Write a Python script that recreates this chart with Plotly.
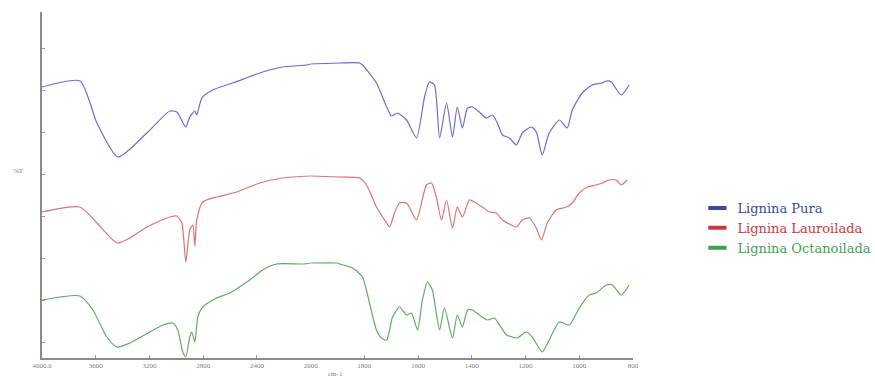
import plotly.graph_objects as go

# FTIR spectra of lignin samples (wavenumber in cm-1, offset %T in arbitrary units)
wn_pura = [4000, 3717, 3591, 3435, 3219, 3048, 2996, 2929, 2900, 2862, 2848, 2810, 2729, 2580,
           2357, 2208, 2030, 2000, 1892, 1818, 1807, 1755, 1717, 1699, 1677, 1643, 1606, 1576,
           1558, 1539, 1520, 1494, 1472, 1454, 1435, 1416, 1398, 1372, 1346, 1323, 1305, 1286,
           1260, 1234, 1212, 1178, 1160, 1138, 1112, 1074, 1045, 1026, 989, 952, 914, 900, 881,
           844, 814]
t_pura = [268, 274, 232, 198, 222, 244, 243, 228, 238, 244, 240, 257, 265, 272,
          283, 288, 290, 291, 292, 292, 290, 272, 248, 239, 242, 235, 217, 258,
          273, 270, 217, 252, 218, 248, 227, 247, 248, 243, 237, 240, 232, 220,
          217, 210, 222, 228, 223, 200, 222, 235, 227, 245, 262, 270, 272, 274, 273,
          260, 270]

wn_laur = [4000, 3717, 3591, 3442, 3346, 3219, 3048, 2996, 2959, 2929, 2900, 2877, 2862, 2848,
           2803, 2699, 2550, 2379, 2208, 2000, 1892, 1818, 1792, 1755, 1717, 1706, 1688, 1669,
           1643, 1606, 1569, 1550, 1532, 1513, 1494, 1472, 1454, 1435, 1409, 1390, 1361, 1335,
           1309, 1286, 1253, 1234, 1212, 1186, 1160, 1141, 1119, 1086, 1048, 1026, 1000, 970,
           937, 914, 889, 863, 844, 822]
t_laur = [143, 148, 132, 112, 117, 128, 138, 139, 132, 93, 125, 130, 109, 135,
          153, 158, 163, 172, 177, 179, 178, 177, 170, 148, 132, 128, 142, 152,
          152, 135, 170, 172, 158, 135, 155, 127, 148, 138, 155, 153, 148, 143,
          142, 135, 130, 128, 135, 137, 127, 115, 132, 145, 148, 152, 162, 168,
          170, 172, 175, 175, 170, 175]

wn_octa = [4000, 3717, 3621, 3517, 3442, 3346, 3197, 3100, 3026, 2989, 2952, 2929, 2900, 2885,
           2862, 2840, 2803, 2699, 2602, 2454, 2357, 2253, 2059, 2000, 1903, 1892, 1844, 1807,
           1781, 1755, 1736, 1717, 1695, 1669, 1643, 1625, 1602, 1584, 1565, 1547, 1520, 1502,
           1472, 1454, 1435, 1416, 1398, 1372, 1342, 1316, 1297, 1271, 1249, 1231, 1197, 1175,
           1138, 1112, 1074, 1037, 1000, 963, 937, 900, 877, 844, 814]
t_octa = [55, 59, 45, 18, 8, 12, 23, 30, 32, 25, 3, -2, 18, 23,
          13, 38, 48, 57, 62, 75, 85, 91, 91, 92, 92, 91, 87, 78,
          52, 25, 17, 15, 38, 48, 40, 42, 25, 55, 73, 65, 25, 47,
          17, 40, 28, 45, 45, 40, 35, 37, 30, 20, 18, 17, 23, 18,
          3, 15, 33, 30, 47, 60, 62, 70, 70, 60, 70]

series = [
    ("Lignina Pura", wn_pura, t_pura, "#6b6bd6", "#3a4aa0"),
    ("Lignina Lauroilada", wn_laur, t_laur, "#e27272", "#c83a3a"),
    ("Lignina Octanoilada", wn_octa, t_octa, "#62ab62", "#3f9f55"),
]

ticks_high = [4000, 3600, 3200, 2800, 2400]
ticks_high_text = ["4000.0", "3600", "3200", "2800", "2400"]
ticks_low = [2000, 1800, 1600, 1400, 1200, 1000, 800]
ticks_low_text = ["2000", "1800", "1600", "1400", "1200", "1000", "800"]

fig = go.Figure()

for name, wn, t, line_col, text_col in series:
    hi = [(w, v) for w, v in zip(wn, t) if w >= 2000]
    lo = [(w, v) for w, v in zip(wn, t) if w <= 2000]
    for part, xa in ((hi, "x"), (lo, "x2")):
        fig.add_trace(go.Scatter(
            x=[p[0] for p in part], y=[p[1] for p in part],
            mode="lines", xaxis=xa, yaxis="y",
            line=dict(color=line_col, width=1.2, shape="spline", smoothing=0.6),
            showlegend=False, hoverinfo="skip",
        ))
    # legend entry with a short thick dash
    fig.add_trace(go.Scatter(
        x=[None], y=[None], mode="markers", xaxis="x2", yaxis="y",
        name=f"<span style='color:{text_col}'>{name}</span>",
        marker=dict(symbol="line-ew-open", size=13, color=text_col,
                    line=dict(color=text_col, width=4)),
    ))

axis_common = dict(
    showline=True, linecolor="#8a8a8a", linewidth=1.5,
    ticks="inside", ticklen=3, tickcolor="#9a9a9a",
    showgrid=False, zeroline=False,
    tickfont=dict(family="Liberation Serif", size=7, color="#808080"),
)

fig.update_layout(
    width=875, height=381,
    margin=dict(l=42, r=242, t=12, b=23, autoexpand=False),
    paper_bgcolor="white", plot_bgcolor="white",
    xaxis=dict(domain=[0, 5 / 11], range=[4000, 2000], anchor="y",
               tickvals=ticks_high, ticktext=ticks_high_text, **axis_common),
    xaxis2=dict(domain=[5 / 11, 1], range=[2000, 800], anchor="y",
                tickvals=ticks_low, ticktext=ticks_low_text, **axis_common),
    yaxis=dict(range=[-3, 343], tickvals=[13, 55, 97, 139, 181, 223, 265, 307],
               showticklabels=False, **axis_common),
    legend=dict(x=1.109, y=0.477, xanchor="left", yanchor="top",
                font=dict(family="DejaVu Serif", size=13, color="#333"),
                bgcolor="rgba(0,0,0,0)", itemwidth=30),
    annotations=[
        dict(text="%T", xref="paper", yref="paper", x=-0.04, y=0.54,
             showarrow=False, xanchor="center",
             font=dict(family="Liberation Serif", size=7, color="#777")),
        dict(text="cm-1", xref="paper", yref="paper", x=0.497, y=-0.046,
             showarrow=False, yanchor="middle",
             font=dict(family="Liberation Serif", size=7, color="#777")),
    ],
)

fig.write_html("out.html")
